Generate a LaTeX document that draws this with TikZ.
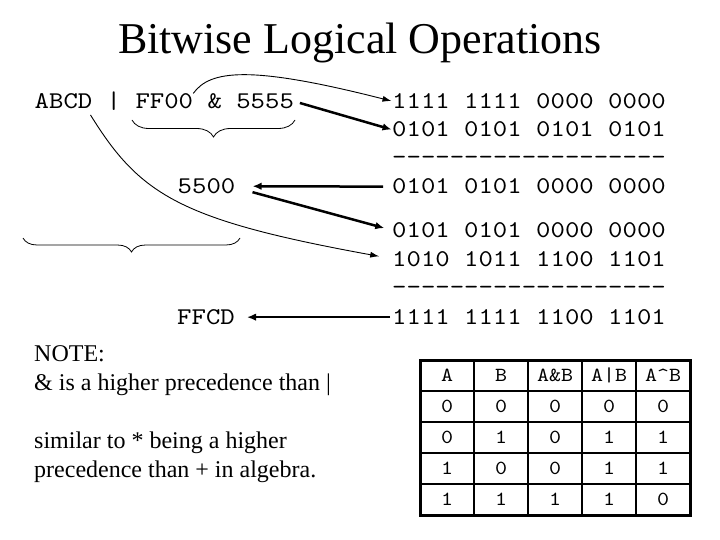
\documentclass[tikz,border=0pt]{standalone}
\usepackage{fontspec}
\setmainfont{Liberation Serif}
\newfontfamily\lmmono{lmmono10-regular}[Extension=.otf, FakeStretch=1.143, Ligatures=NoCommon]
\usetikzlibrary{arrows.meta,decorations.pathreplacing}
\newcommand\dd{-\kern0pt}
\newcommand\dashrow{\dd\dd\dd\dd\dd\dd\dd\dd\dd\dd\dd\dd\dd\dd\dd\dd\dd\dd\dd}
\begin{document}
\begin{tikzpicture}[x=1pt,y=-1pt,
  mono/.style={font=\fontsize{24}{28}\lmmono, inner sep=0pt, anchor=base west},
  tmono/.style={font=\fontsize{20}{24}\lmmono, inner sep=0pt, anchor=base},
  note/.style={font=\fontsize{24}{28}\selectfont, inner sep=0pt, anchor=base west},
  thinarrow/.style={line width=0.9pt, -{Latex[length=9pt,width=6pt]}},
  thickarrow/.style={line width=2.5pt, -{Latex[length=9pt,width=7.5pt]}},
  bracepath/.style={line width=0.8pt, decorate, decoration={brace,mirror,amplitude=#1}},
  tabline/.style={line width=2.2pt},
  tabframe/.style={line width=3pt}
]
\useasboundingbox (0,0) rectangle (720,540);
\fill[white] (0,0) rectangle (720,540);

% title
\node[font=\fontsize{44}{50}\selectfont, anchor=base, inner sep=0pt] (title) at (360,54) {Bitwise Logical Operations};

% expression
\node[mono] (abcd) at (34.5,108.5) {ABCD};
\node[mono] (bar) at (106.5,108.5) {|};
\node[mono] (ff) at (135.3,108.5) {FF00};
\node[mono] (amp) at (207.3,108.5) {\&};
\node[mono] (fives) at (236.1,108.5) {5555};
\node[mono] (r5500) at (177.5,193.5) {5500};
\node[mono] (ffcd) at (177,324.5) {FFCD};

% binary rows
\node[mono] (row1) at (392,108.5) {1111 1111 0000 0000};
\node[mono] (row2) at (392,137) {0101 0101 0101 0101};
\node[mono] (row3) at (392,164.5) {\dashrow};
\node[mono] (row4) at (392,194) {0101 0101 0000 0000};
\node[mono] (row5) at (392,237.5) {0101 0101 0000 0000};
\node[mono] (row6) at (392,266) {1010 1011 1100 1101};
\node[mono] (row7) at (392,294) {\dashrow};
\node[mono] (row8) at (392,324.5) {1111 1111 1100 1101};

% braces
\coordinate (b1a) at (132,120);
\coordinate (b1b) at (295,120);
\coordinate (b2a) at (23,238);
\coordinate (b2b) at (240,238);
\draw[bracepath=17pt] (b1a) -- (b1b);
\draw[bracepath=14pt] (b2a) -- (b2b);

% arrows
\draw[thinarrow, shorten >=0.5pt] (ff.north east) .. controls (210,70) and (250,65) .. (row1.west);
\draw[thickarrow, shorten <=6pt, shorten >=0.5pt] (fives.east) -- (row2.west);
\draw[thickarrow, shorten <=9pt, shorten >=17pt] (row4.west) -- (r5500.east);
\coordinate (a4s) at ([shift={(17,6)}]r5500.east);
\draw[thickarrow, shorten >=8pt] (a4s) -- (row5.west);
\coordinate (a5s) at ([shift={(-2,6)}]abcd.south east);
\draw[thinarrow, shorten >=13pt] (a5s) .. controls (140,195) and (180,220) .. (row6.west);
\draw[thickarrow, shorten <=2pt, shorten >=12pt] (row8.west) -- (ffcd.east);

% note
\node[note] (n1) at (34,361) {NOTE:};
\node[note] (n2) at (34,390) {\& is a higher precedence than |};
\node[note] (n3) at (34,448) {similar to * being a higher};
\node[note] (n4) at (34,477) {precedence than + in algebra.};

% table
\foreach \x in {474,528,582,636} \draw[tabline] (\x,360) -- (\x,515);
\foreach \y in {391,422,453,484} \draw[tabline] (420,\y) -- (690,\y);
\draw[tabframe] (420,360) rectangle (690,515);
\foreach \t [count=\i] in {A,B,A\&B,A|B,A\textasciicircum B}
  \node[tmono] (h\i) at (393+54*\i,381.5) {\t};
\foreach \r/\vals in {1/{0,0,0,0,0},2/{0,1,0,1,1},3/{1,0,0,1,1},4/{1,1,1,1,0}}
  \foreach \v [count=\i] in \vals
    \node[tmono] (c\r\i) at (393+54*\i,381.5+31*\r) {\v};
\end{tikzpicture}
\end{document}
